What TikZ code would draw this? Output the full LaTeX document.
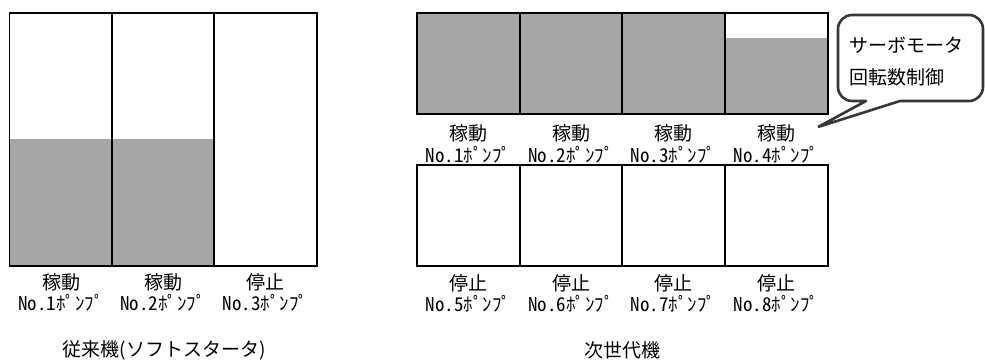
\documentclass[tikz,border=0pt]{standalone}
\usepackage{fontspec}
\newfontfamily\jp{Noto Sans CJK JP}
\newfontfamily\jphw[RawFeature=+hwid]{Noto Sans CJK JP}
\definecolor{fillgray}{RGB}{166,166,166}
\definecolor{bubbleline}{RGB}{55,55,55}
\tikzset{
  pumpbox/.style={draw=black, line width=1.3pt},
  grayfill/.style={fill=fillgray},
  lbl/.style={font=\jp\fontsize{19}{19}\selectfont, inner sep=0pt, anchor=center},
  numlbl/.style={font=\jphw\fontsize{19}{19}\selectfont, inner sep=0pt, anchor=center},
  captext/.style={font=\jp\fontsize{19}{19}\selectfont, inner sep=0pt, anchor=center},
  bubble/.style={draw=bubbleline, fill=white, line width=2.6pt, line cap=round, line join=miter},
  btext/.style={font=\jp\fontsize{19}{19}\selectfont, inner sep=0pt, anchor=west}
}
\begin{document}
\begin{tikzpicture}[x=1pt,y=-1pt]
\useasboundingbox (0,0) rectangle (985,363);
% ---------- left panel ----------
\fill[grayfill] (9.5,139) rectangle (214,266);
\draw[pumpbox] (9.5,13) rectangle (317,266);
\draw[pumpbox] (112,13) -- (112,266);
\draw[pumpbox] (214,13) -- (214,266);
\node[lbl] (l1s) at (61,282) {稼動};
\node[lbl] (l2s) at (163,282) {稼動};
\node[lbl] (l3s) at (265.5,282) {停止};
\node[numlbl] (l1n) at (61,303) {No.1ﾎﾟﾝﾌﾟ};
\node[numlbl] (l2n) at (163,303) {No.2ﾎﾟﾝﾌﾟ};
\node[numlbl] (l3n) at (265.5,303) {No.3ﾎﾟﾝﾌﾟ};
\node[captext] (lcap) at (164,350) {従来機(ソフトスタータ)};
% ---------- right panel, top row ----------
\fill[grayfill] (417,13) rectangle (725,114);
\fill[grayfill] (725,38) rectangle (828,114);
\draw[pumpbox] (417,13) rectangle (828,114);
\draw[pumpbox] (520,13) -- (520,114);
\draw[pumpbox] (622,13) -- (622,114);
\draw[pumpbox] (725,13) -- (725,114);
\node[lbl] (r1s) at (468.5,133) {稼動};
\node[lbl] (r2s) at (571,133) {稼動};
\node[lbl] (r3s) at (673.5,133) {稼動};
\node[lbl] (r4s) at (776.5,133) {稼動};
\node[numlbl] (r1n) at (468.5,155) {No.1ﾎﾟﾝﾌﾟ};
\node[numlbl] (r2n) at (571,155) {No.2ﾎﾟﾝﾌﾟ};
\node[numlbl] (r3n) at (673.5,155) {No.3ﾎﾟﾝﾌﾟ};
\node[numlbl] (r4n) at (776.5,155) {No.4ﾎﾟﾝﾌﾟ};
% ---------- right panel, bottom row ----------
\draw[pumpbox] (417,165) rectangle (828,266);
\draw[pumpbox] (520,165) -- (520,266);
\draw[pumpbox] (622,165) -- (622,266);
\draw[pumpbox] (725,165) -- (725,266);
\node[lbl] (r5s) at (468.5,283) {停止};
\node[lbl] (r6s) at (571,283) {停止};
\node[lbl] (r7s) at (673.5,283) {停止};
\node[lbl] (r8s) at (776.5,283) {停止};
\node[numlbl] (r5n) at (468.5,304) {No.5ﾎﾟﾝﾌﾟ};
\node[numlbl] (r6n) at (571,304) {No.6ﾎﾟﾝﾌﾟ};
\node[numlbl] (r7n) at (673.5,304) {No.7ﾎﾟﾝﾌﾟ};
\node[numlbl] (r8n) at (776.5,304) {No.8ﾎﾟﾝﾌﾟ};
\node[captext] (rcap) at (622.5,350) {次世代機};
% ---------- callout ----------
\coordinate (tip) at (818,127);
\draw[bubble] (866,101) -- (tip) -- (900,101) [rounded corners=14pt] -- (983,101) -- (983,15) -- (838,15) -- (838,101) -- (866,101);
\node[btext] (bt1) at (849,45) {サーボモータ};
\node[btext] (bt2) at (849,77) {回転数制御};
\end{tikzpicture}
\end{document}
